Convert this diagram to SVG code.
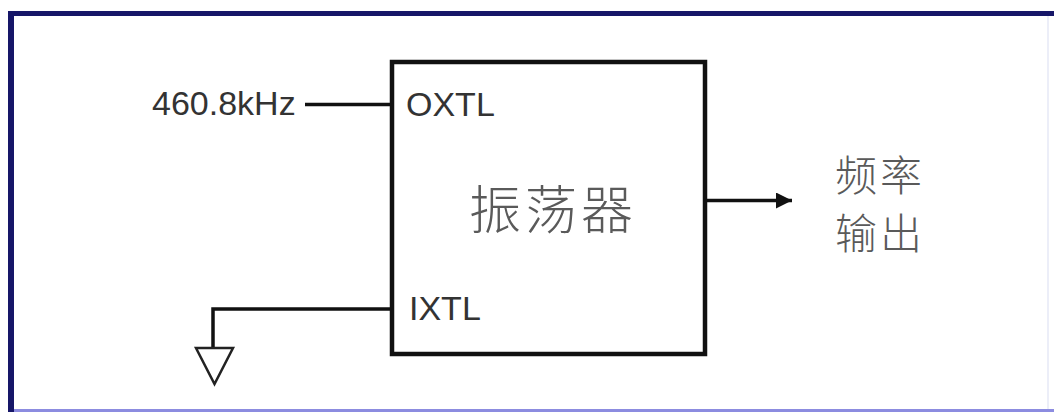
<svg xmlns="http://www.w3.org/2000/svg" width="1054" height="412" viewBox="0 0 1054 412">
<defs>
<style>
.lat{font-family:"Liberation Sans",Arial,sans-serif;font-size:34px;fill:#333}
.cjk{font-family:"Noto Sans CJK SC",sans-serif;font-weight:300;fill:#5a5a5a}
.wire{stroke:#111;stroke-width:3.5;fill:none}
</style>
<marker id="arr" viewBox="0 0 10 10" refX="10" refY="5" markerWidth="19" markerHeight="16" markerUnits="userSpaceOnUse" orient="auto">
<path d="M0,0 L10,5 L0,10 Z" fill="#111"/>
</marker>
</defs>
<rect width="1054" height="412" fill="#fff"/>
<g id="frame">
<line x1="1048" y1="14" x2="1048" y2="410" stroke="#eceef8" stroke-width="2"/>
<line x1="8" y1="410.5" x2="1054" y2="410.5" stroke="#8c8ce0" stroke-width="3"/>
<line x1="8" y1="13.5" x2="1054" y2="13.5" stroke="#161668" stroke-width="5"/>
<line x1="11" y1="11" x2="11" y2="412" stroke="#161668" stroke-width="6"/>
</g>
<g id="connectors">
<line class="wire" x1="305" y1="104.5" x2="392" y2="104.5"/>
<polyline class="wire" points="392,309 213,309 213,348"/>
<line class="wire" x1="705" y1="200.5" x2="792" y2="200.5" stroke-width="2.5" marker-end="url(#arr)"/>
</g>
<g id="ground">
<polygon points="196,348 233,348 214.5,384" fill="#fff" stroke="#222" stroke-width="2.5"/>
</g>
<g id="input-label">
<text class="lat" x="152" y="115">460.8kHz</text>
</g>
<g id="oscillator">
<rect x="392" y="62" width="313" height="292" fill="#fff" stroke="#111" stroke-width="4.5"/>
<text class="lat" x="406" y="116">OXTL</text>
<text class="lat" x="409" y="320">IXTL</text>
<text class="cjk" x="553" y="229" font-size="52" letter-spacing="4" text-anchor="middle">振荡器</text>
</g>
<g id="output-label">
<text class="cjk" x="835" y="191" font-size="42" letter-spacing="3">频率</text>
<text class="cjk" x="835" y="249" font-size="42" letter-spacing="3">输出</text>
</g>
</svg>
